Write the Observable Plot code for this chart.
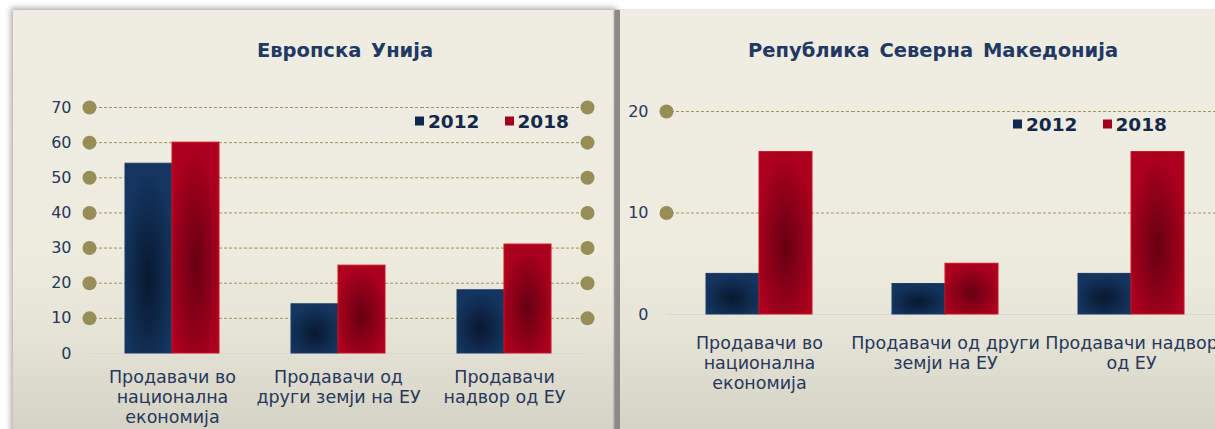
<!DOCTYPE html>
<html>
<head>
<meta charset="utf-8">
<script src="https://cdn.jsdelivr.net/npm/d3@7"></script>
<script src="https://cdn.jsdelivr.net/npm/@observablehq/plot@0.6"></script>
<style>
  html, body { margin: 0; padding: 0; }
  body { width: 1215px; height: 429px; overflow: hidden; background: #ffffff; position: relative; font-family: "DejaVu Sans", Verdana, sans-serif; }
  .panel { position: absolute; top: 10px; height: 430px; overflow: hidden;
    background: linear-gradient(to bottom, #efede2 0%, #eeebdf 55%, #e6e3d7 75%, #d3d0c4 100%); }
  #p1 { left: 13px; width: 601px; box-shadow: 0 0 6px 2px rgba(0,0,0,0.35); }
  #p2 { left: 615px; width: 640px; border-left: 5px solid #8a8a8a; box-shadow: -1px 0 2px rgba(0,0,0,0.3); }
  .plot { position: absolute; left: 0; top: 0; }
  .title { position: absolute; transform: translate(-50%, -50%); white-space: nowrap;
    font-family: "DejaVu Sans", Verdana, sans-serif; font-weight: bold; font-size: 19.5px; color: #1f3864; word-spacing: 3px; }
  .legend { position: absolute; transform: translateY(-50%); display: flex; align-items: center; white-space: nowrap;
    font-family: "DejaVu Sans", Verdana, sans-serif; font-weight: bold; font-size: 18.5px; color: #14284a; }
  .legend .sw { display: inline-block; width: 9px; height: 9px; margin-right: 4px; }
  .legend .item { display: flex; align-items: center; margin-right: 25px; }
</style>
</head>
<body>
<svg width="0" height="0" style="position:absolute">
  <defs>
    <radialGradient id="gNavy" cx="0.5" cy="0.6" r="0.55">
      <stop offset="0" stop-color="#081830"/>
      <stop offset="1" stop-color="#13355f"/>
    </radialGradient>
    <radialGradient id="gRed" cx="0.5" cy="0.58" r="0.55">
      <stop offset="0" stop-color="#660010"/>
      <stop offset="1" stop-color="#ac001e"/>
    </radialGradient>
  </defs>
</svg>
<div id="p1" class="panel"></div>
<div id="p2" class="panel"></div>
<script>
// ---- data ----
const categories = ["Продавачи во национална економија", "Продавачи од други земји на ЕУ", "Продавачи надвор од ЕУ"];
const years = ["2012", "2018"];
const euTitle = "Европска Унија";
const mkTitle = "Република Северна Македонија";
const eu2012 = [54, 14, 18];
const eu2018 = [60, 25, 31];
const mk2012 = [4, 3, 4];
const mk2018 = [16, 5, 16];
const euTicks = [0, 10, 20, 30, 40, 50, 60, 70];
const mkTicks = [0, 10, 20];
const euLabels = ["Продавачи во\nнационална\nекономија", "Продавачи од\nдруги земји на ЕУ", "Продавачи\nнадвор од ЕУ"];
const mkLabels = ["Продавачи во\nнационална\nекономија", "Продавачи од други\nземји на ЕУ", "Продавачи надвор\nод ЕУ"];
const swatchColors = ["#0f2a52", "#a0001c"];
const fills = {"2012": "url(#gNavy)", "2018": "url(#gRed)"};
const strokes = {"2012": "#1c3a66", "2018": "#d0101c"};

function rowsFor(v12, v18) {
  const rows = [];
  categories.forEach((c, i) => {
    rows.push({cat: c, year: "2012", value: v12[i]});
    rows.push({cat: c, year: "2018", value: v18[i]});
  });
  return rows;
}

function makeChart(opts) {
  const {rows, ticks, labels, width, height, marginLeft, marginRight, marginTop, marginBottom, labelPad} = opts;
  const labelMap = new Map(categories.map((c, i) => [c, labels[i]]));
  const gridTicks = ticks.filter(t => t !== 0);
  const marks = [
    Plot.ruleY([0], {stroke: "#d8d8d4", strokeWidth: 1}),
    Plot.ruleY(gridTicks, {stroke: "#9d9462", strokeWidth: 1, strokeDasharray: "3,2"}),
  ];
  years.forEach(y => {
    marks.push(Plot.barY(rows.filter(r => r.year === y), {
      fx: "cat", x: "year", y: "value", fill: fills[y], stroke: strokes[y], strokeWidth: 1
    }));
  });
  marks.push(Plot.dot(gridTicks, {y: d => d, fx: () => categories[0], frameAnchor: "left", r: 7, fill: "#978d57"}));
  marks.push(Plot.dot(gridTicks, {y: d => d, fx: () => categories[categories.length - 1], frameAnchor: "right", r: 7, fill: "#978d57"}));
  marks.push(Plot.axisY(ticks, {tickSize: 0, tickPadding: 18, fontSize: 16, label: null}));
  marks.push(Plot.axisFx({anchor: "bottom", tickSize: 0, tickPadding: labelPad, fontSize: 17.5, lineHeight: 1.12, label: null,
    tickFormat: d => labelMap.get(d)}));
  return Plot.plot({
    width, height, marginLeft, marginRight, marginTop, marginBottom,
    style: {background: "transparent", color: "#27385a", fontFamily: "'DejaVu Sans', Verdana, sans-serif", overflow: "visible"},
    fx: {domain: categories, padding: 0, label: null},
    x: {domain: years, paddingInner: 0, paddingOuter: 0.75, axis: null},
    y: {domain: [0, ticks[ticks.length - 1]], axis: null},
    marks
  });
}

function addDecor(panel, title, titleX, titleY, legX, legY) {
  const t = document.createElement("div");
  t.className = "title";
  t.textContent = title;
  t.style.left = titleX + "px";
  t.style.top = titleY + "px";
  panel.appendChild(t);
  const l = document.createElement("div");
  l.className = "legend";
  l.style.left = legX + "px";
  l.style.top = legY + "px";
  years.forEach((y, i) => {
    const it = document.createElement("span");
    it.className = "item";
    const sw = document.createElement("span");
    sw.className = "sw";
    sw.style.background = swatchColors[i];
    it.appendChild(sw);
    it.appendChild(document.createTextNode(y));
    l.appendChild(it);
  });
  panel.appendChild(l);
}

const p1 = document.getElementById("p1");
const c1 = makeChart({rows: rowsFor(eu2012, eu2018), ticks: euTicks, labels: euLabels,
  width: 601, height: 419, marginLeft: 75, marginRight: 27, marginTop: 97, marginBottom: 76, labelPad: 16});
c1.classList.add("plot");
p1.appendChild(c1);
addDecor(p1, euTitle, 332, 40, 402, 111);

const p2 = document.getElementById("p2");
const c2 = makeChart({rows: rowsFor(mk2012, mk2018), ticks: mkTicks, labels: mkLabels,
  width: 610, height: 419, marginLeft: 45, marginRight: 5.5, marginTop: 101, marginBottom: 115, labelPad: 21});
c2.classList.add("plot");
p2.appendChild(c2);
addDecor(p2, mkTitle, 313, 40, 393, 114);
</script>
</body>
</html>
